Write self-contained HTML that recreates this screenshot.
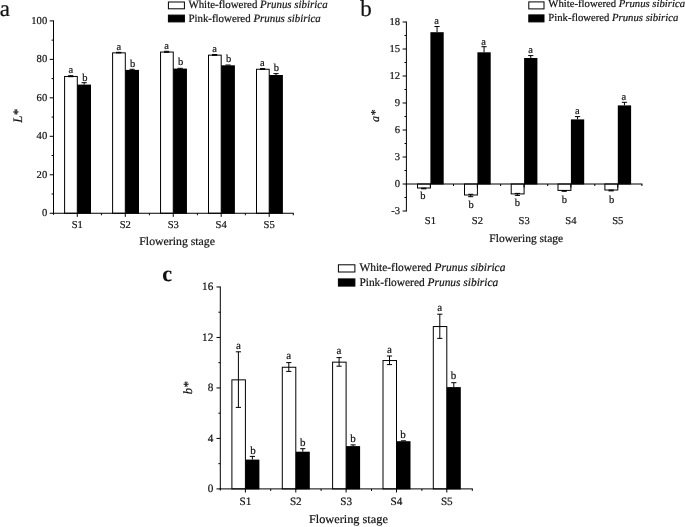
<!DOCTYPE html>
<html><head><meta charset="utf-8"><title>Figure</title>
<style>html,body{margin:0;padding:0;background:#fff}svg{display:block}text{text-rendering:geometricPrecision;font-family:"Liberation Serif","Times New Roman",serif;fill:#111;stroke:#111;stroke-width:0.2px}</style>
</head><body>
<svg width="685" height="527" viewBox="0 0 685 527">
<rect x="0" y="0" width="685" height="527" fill="#fff"/>
<rect x="64.60" y="76.45" width="12.70" height="136.80" fill="#fff" stroke="#000" stroke-width="1"/>
<rect x="77.30" y="84.60" width="13.70" height="129.15" fill="#000"/>
<line x1="70.70" y1="75.70" x2="70.70" y2="76.70" stroke="#000" stroke-width="1"/>
<line x1="68.10" y1="75.70" x2="73.30" y2="75.70" stroke="#000" stroke-width="1"/>
<line x1="68.10" y1="76.70" x2="73.30" y2="76.70" stroke="#000" stroke-width="1"/>
<line x1="84.15" y1="82.70" x2="84.15" y2="84.60" stroke="#000" stroke-width="1"/>
<line x1="81.55" y1="82.70" x2="86.75" y2="82.70" stroke="#000" stroke-width="1"/>
<text x="70.90" y="72.60" font-size="10.5" text-anchor="middle" >a</text>
<text x="84.80" y="80.70" font-size="10.5" text-anchor="middle" >b</text>
<rect x="112.60" y="52.85" width="12.70" height="160.40" fill="#fff" stroke="#000" stroke-width="1"/>
<rect x="125.30" y="69.90" width="13.70" height="143.85" fill="#000"/>
<line x1="118.70" y1="52.30" x2="118.70" y2="52.90" stroke="#000" stroke-width="1"/>
<line x1="116.10" y1="52.30" x2="121.30" y2="52.30" stroke="#000" stroke-width="1"/>
<line x1="116.10" y1="52.90" x2="121.30" y2="52.90" stroke="#000" stroke-width="1"/>
<line x1="132.15" y1="69.30" x2="132.15" y2="69.90" stroke="#000" stroke-width="1"/>
<line x1="129.55" y1="69.30" x2="134.75" y2="69.30" stroke="#000" stroke-width="1"/>
<text x="118.90" y="49.70" font-size="10.5" text-anchor="middle" >a</text>
<text x="132.50" y="66.80" font-size="10.5" text-anchor="middle" >b</text>
<rect x="160.55" y="52.05" width="12.70" height="161.20" fill="#fff" stroke="#000" stroke-width="1"/>
<rect x="173.25" y="68.60" width="13.70" height="145.15" fill="#000"/>
<line x1="166.65" y1="51.30" x2="166.65" y2="52.30" stroke="#000" stroke-width="1"/>
<line x1="164.05" y1="51.30" x2="169.25" y2="51.30" stroke="#000" stroke-width="1"/>
<line x1="164.05" y1="52.30" x2="169.25" y2="52.30" stroke="#000" stroke-width="1"/>
<line x1="180.10" y1="68.30" x2="180.10" y2="68.60" stroke="#000" stroke-width="1"/>
<line x1="177.50" y1="68.30" x2="182.70" y2="68.30" stroke="#000" stroke-width="1"/>
<text x="166.70" y="48.50" font-size="10.5" text-anchor="middle" >a</text>
<text x="180.60" y="65.00" font-size="10.5" text-anchor="middle" >b</text>
<rect x="208.50" y="55.15" width="12.70" height="158.10" fill="#fff" stroke="#000" stroke-width="1"/>
<rect x="221.20" y="65.30" width="13.70" height="148.45" fill="#000"/>
<line x1="214.60" y1="54.50" x2="214.60" y2="55.30" stroke="#000" stroke-width="1"/>
<line x1="212.00" y1="54.50" x2="217.20" y2="54.50" stroke="#000" stroke-width="1"/>
<line x1="212.00" y1="55.30" x2="217.20" y2="55.30" stroke="#000" stroke-width="1"/>
<line x1="228.05" y1="65.00" x2="228.05" y2="65.30" stroke="#000" stroke-width="1"/>
<line x1="225.45" y1="65.00" x2="230.65" y2="65.00" stroke="#000" stroke-width="1"/>
<text x="214.70" y="51.50" font-size="10.5" text-anchor="middle" >a</text>
<text x="228.60" y="61.80" font-size="10.5" text-anchor="middle" >b</text>
<rect x="256.50" y="69.25" width="12.70" height="144.00" fill="#fff" stroke="#000" stroke-width="1"/>
<rect x="269.20" y="75.00" width="13.70" height="138.75" fill="#000"/>
<line x1="262.60" y1="68.60" x2="262.60" y2="69.40" stroke="#000" stroke-width="1"/>
<line x1="260.00" y1="68.60" x2="265.20" y2="68.60" stroke="#000" stroke-width="1"/>
<line x1="260.00" y1="69.40" x2="265.20" y2="69.40" stroke="#000" stroke-width="1"/>
<line x1="276.05" y1="73.60" x2="276.05" y2="75.00" stroke="#000" stroke-width="1"/>
<line x1="273.45" y1="73.60" x2="278.65" y2="73.60" stroke="#000" stroke-width="1"/>
<text x="262.40" y="65.70" font-size="10.5" text-anchor="middle" >a</text>
<text x="276.30" y="71.20" font-size="10.5" text-anchor="middle" >b</text>
<line x1="53.50" y1="20.40" x2="53.50" y2="213.75" stroke="#000" stroke-width="1"/>
<line x1="53.00" y1="213.25" x2="293.80" y2="213.25" stroke="#000" stroke-width="1"/>
<line x1="49.70" y1="213.25" x2="53.50" y2="213.25" stroke="#000" stroke-width="1"/>
<text x="47.20" y="216.15" font-size="10.6" text-anchor="end" >0</text>
<line x1="51.60" y1="194.01" x2="53.50" y2="194.01" stroke="#000" stroke-width="1"/>
<line x1="49.70" y1="174.78" x2="53.50" y2="174.78" stroke="#000" stroke-width="1"/>
<text x="47.20" y="177.68" font-size="10.6" text-anchor="end" >20</text>
<line x1="51.60" y1="155.55" x2="53.50" y2="155.55" stroke="#000" stroke-width="1"/>
<line x1="49.70" y1="136.31" x2="53.50" y2="136.31" stroke="#000" stroke-width="1"/>
<text x="47.20" y="139.21" font-size="10.6" text-anchor="end" >40</text>
<line x1="51.60" y1="117.08" x2="53.50" y2="117.08" stroke="#000" stroke-width="1"/>
<line x1="49.70" y1="97.84" x2="53.50" y2="97.84" stroke="#000" stroke-width="1"/>
<text x="47.20" y="100.74" font-size="10.6" text-anchor="end" >60</text>
<line x1="51.60" y1="78.60" x2="53.50" y2="78.60" stroke="#000" stroke-width="1"/>
<line x1="49.70" y1="59.37" x2="53.50" y2="59.37" stroke="#000" stroke-width="1"/>
<text x="47.20" y="62.27" font-size="10.6" text-anchor="end" >80</text>
<line x1="51.60" y1="40.13" x2="53.50" y2="40.13" stroke="#000" stroke-width="1"/>
<line x1="49.70" y1="20.90" x2="53.50" y2="20.90" stroke="#000" stroke-width="1"/>
<text x="47.20" y="23.80" font-size="10.6" text-anchor="end" >100</text>
<line x1="77.30" y1="213.25" x2="77.30" y2="216.85" stroke="#000" stroke-width="1"/>
<text x="77.30" y="228.10" font-size="10.6" text-anchor="middle" >S1</text>
<line x1="125.30" y1="213.25" x2="125.30" y2="216.85" stroke="#000" stroke-width="1"/>
<text x="125.30" y="228.10" font-size="10.6" text-anchor="middle" >S2</text>
<line x1="173.25" y1="213.25" x2="173.25" y2="216.85" stroke="#000" stroke-width="1"/>
<text x="173.25" y="228.10" font-size="10.6" text-anchor="middle" >S3</text>
<line x1="221.20" y1="213.25" x2="221.20" y2="216.85" stroke="#000" stroke-width="1"/>
<text x="221.20" y="228.10" font-size="10.6" text-anchor="middle" >S4</text>
<line x1="269.20" y1="213.25" x2="269.20" y2="216.85" stroke="#000" stroke-width="1"/>
<text x="269.20" y="228.10" font-size="10.6" text-anchor="middle" >S5</text>
<line x1="53.50" y1="213.25" x2="53.50" y2="214.85" stroke="#000" stroke-width="1"/>
<line x1="101.46" y1="213.25" x2="101.46" y2="215.25" stroke="#000" stroke-width="1"/>
<line x1="149.42" y1="213.25" x2="149.42" y2="215.25" stroke="#000" stroke-width="1"/>
<line x1="197.38" y1="213.25" x2="197.38" y2="215.25" stroke="#000" stroke-width="1"/>
<line x1="245.34" y1="213.25" x2="245.34" y2="215.25" stroke="#000" stroke-width="1"/>
<line x1="293.30" y1="213.25" x2="293.30" y2="215.25" stroke="#000" stroke-width="1"/>
<text x="139.30" y="244.90" font-size="11.6" text-anchor="start" textLength="75.7" lengthAdjust="spacingAndGlyphs" >Flowering stage</text>
<text transform="translate(22,116.0) rotate(-90)" font-size="12.9" text-anchor="middle" font-style="italic">L*</text>
<text x="-0.30" y="15.50" font-size="23" text-anchor="start" >a</text>
<rect x="168.40" y="2.00" width="16.00" height="6.80" fill="#fff" stroke="#000" stroke-width="1"/>
<rect x="168.40" y="15.10" width="16.00" height="6.80" fill="#000" stroke="#000" stroke-width="1"/>
<text x="188.4" y="7.7" font-size="11.2" textLength="139.2" lengthAdjust="spacingAndGlyphs">White-flowered <tspan font-style="italic">Prunus sibirica</tspan></text>
<text x="188.4" y="22.0" font-size="11.2" textLength="132.4" lengthAdjust="spacingAndGlyphs">Pink-flowered <tspan font-style="italic">Prunus sibirica</tspan></text>
<rect x="417.50" y="184.00" width="12.90" height="4.00" fill="#fff" stroke="#000" stroke-width="1"/>
<rect x="430.40" y="32.20" width="13.30" height="152.30" fill="#000"/>
<line x1="423.70" y1="188.20" x2="423.70" y2="188.80" stroke="#000" stroke-width="1"/>
<line x1="421.10" y1="188.20" x2="426.30" y2="188.20" stroke="#000" stroke-width="1"/>
<line x1="421.10" y1="188.80" x2="426.30" y2="188.80" stroke="#000" stroke-width="1"/>
<line x1="437.05" y1="26.50" x2="437.05" y2="32.20" stroke="#000" stroke-width="1"/>
<line x1="434.45" y1="26.50" x2="439.65" y2="26.50" stroke="#000" stroke-width="1"/>
<text x="422.80" y="198.60" font-size="10.5" text-anchor="middle" >b</text>
<text x="436.50" y="24.40" font-size="10.5" text-anchor="middle" >a</text>
<rect x="464.50" y="184.00" width="12.90" height="11.00" fill="#fff" stroke="#000" stroke-width="1"/>
<rect x="477.40" y="52.30" width="13.30" height="132.20" fill="#000"/>
<line x1="470.70" y1="194.30" x2="470.70" y2="196.70" stroke="#000" stroke-width="1"/>
<line x1="468.10" y1="194.30" x2="473.30" y2="194.30" stroke="#000" stroke-width="1"/>
<line x1="468.10" y1="196.70" x2="473.30" y2="196.70" stroke="#000" stroke-width="1"/>
<line x1="484.05" y1="46.70" x2="484.05" y2="52.30" stroke="#000" stroke-width="1"/>
<line x1="481.45" y1="46.70" x2="486.65" y2="46.70" stroke="#000" stroke-width="1"/>
<text x="471.00" y="207.80" font-size="10.5" text-anchor="middle" >b</text>
<text x="483.70" y="45.00" font-size="10.5" text-anchor="middle" >a</text>
<rect x="511.20" y="184.00" width="12.90" height="9.90" fill="#fff" stroke="#000" stroke-width="1"/>
<rect x="524.10" y="58.00" width="13.30" height="126.50" fill="#000"/>
<line x1="517.40" y1="193.40" x2="517.40" y2="195.40" stroke="#000" stroke-width="1"/>
<line x1="514.80" y1="193.40" x2="520.00" y2="193.40" stroke="#000" stroke-width="1"/>
<line x1="514.80" y1="195.40" x2="520.00" y2="195.40" stroke="#000" stroke-width="1"/>
<line x1="530.75" y1="55.60" x2="530.75" y2="58.00" stroke="#000" stroke-width="1"/>
<line x1="528.15" y1="55.60" x2="533.35" y2="55.60" stroke="#000" stroke-width="1"/>
<text x="517.40" y="205.60" font-size="10.5" text-anchor="middle" >b</text>
<text x="530.60" y="53.40" font-size="10.5" text-anchor="middle" >a</text>
<rect x="558.00" y="184.00" width="12.90" height="6.40" fill="#fff" stroke="#000" stroke-width="1"/>
<rect x="570.90" y="119.40" width="13.30" height="65.10" fill="#000"/>
<line x1="564.20" y1="190.50" x2="564.20" y2="191.30" stroke="#000" stroke-width="1"/>
<line x1="561.60" y1="190.50" x2="566.80" y2="190.50" stroke="#000" stroke-width="1"/>
<line x1="561.60" y1="191.30" x2="566.80" y2="191.30" stroke="#000" stroke-width="1"/>
<line x1="577.55" y1="116.60" x2="577.55" y2="119.40" stroke="#000" stroke-width="1"/>
<line x1="574.95" y1="116.60" x2="580.15" y2="116.60" stroke="#000" stroke-width="1"/>
<text x="564.40" y="202.50" font-size="10.5" text-anchor="middle" >b</text>
<text x="577.30" y="113.80" font-size="10.5" text-anchor="middle" >a</text>
<rect x="604.90" y="184.00" width="12.90" height="6.00" fill="#fff" stroke="#000" stroke-width="1"/>
<rect x="617.80" y="105.40" width="13.30" height="79.10" fill="#000"/>
<line x1="611.10" y1="190.10" x2="611.10" y2="190.90" stroke="#000" stroke-width="1"/>
<line x1="608.50" y1="190.10" x2="613.70" y2="190.10" stroke="#000" stroke-width="1"/>
<line x1="608.50" y1="190.90" x2="613.70" y2="190.90" stroke="#000" stroke-width="1"/>
<line x1="624.45" y1="102.30" x2="624.45" y2="105.40" stroke="#000" stroke-width="1"/>
<line x1="621.85" y1="102.30" x2="627.05" y2="102.30" stroke="#000" stroke-width="1"/>
<text x="611.70" y="202.50" font-size="10.5" text-anchor="middle" >b</text>
<text x="623.90" y="99.80" font-size="10.5" text-anchor="middle" >a</text>
<line x1="406.40" y1="21.50" x2="406.40" y2="211.50" stroke="#000" stroke-width="1"/>
<line x1="405.90" y1="184.00" x2="642.40" y2="184.00" stroke="#000" stroke-width="1"/>
<line x1="402.60" y1="211.00" x2="406.40" y2="211.00" stroke="#000" stroke-width="1"/>
<text x="400.10" y="213.90" font-size="10.6" text-anchor="end" >-3</text>
<line x1="404.50" y1="197.50" x2="406.40" y2="197.50" stroke="#000" stroke-width="1"/>
<line x1="402.60" y1="184.00" x2="406.40" y2="184.00" stroke="#000" stroke-width="1"/>
<text x="400.10" y="186.90" font-size="10.6" text-anchor="end" >0</text>
<line x1="404.50" y1="170.50" x2="406.40" y2="170.50" stroke="#000" stroke-width="1"/>
<line x1="402.60" y1="157.00" x2="406.40" y2="157.00" stroke="#000" stroke-width="1"/>
<text x="400.10" y="159.90" font-size="10.6" text-anchor="end" >3</text>
<line x1="404.50" y1="143.50" x2="406.40" y2="143.50" stroke="#000" stroke-width="1"/>
<line x1="402.60" y1="130.00" x2="406.40" y2="130.00" stroke="#000" stroke-width="1"/>
<text x="400.10" y="132.90" font-size="10.6" text-anchor="end" >6</text>
<line x1="404.50" y1="116.50" x2="406.40" y2="116.50" stroke="#000" stroke-width="1"/>
<line x1="402.60" y1="103.00" x2="406.40" y2="103.00" stroke="#000" stroke-width="1"/>
<text x="400.10" y="105.90" font-size="10.6" text-anchor="end" >9</text>
<line x1="404.50" y1="89.50" x2="406.40" y2="89.50" stroke="#000" stroke-width="1"/>
<line x1="402.60" y1="76.00" x2="406.40" y2="76.00" stroke="#000" stroke-width="1"/>
<text x="400.10" y="78.90" font-size="10.6" text-anchor="end" >12</text>
<line x1="404.50" y1="62.50" x2="406.40" y2="62.50" stroke="#000" stroke-width="1"/>
<line x1="402.60" y1="49.00" x2="406.40" y2="49.00" stroke="#000" stroke-width="1"/>
<text x="400.10" y="51.90" font-size="10.6" text-anchor="end" >15</text>
<line x1="404.50" y1="35.50" x2="406.40" y2="35.50" stroke="#000" stroke-width="1"/>
<line x1="402.60" y1="22.00" x2="406.40" y2="22.00" stroke="#000" stroke-width="1"/>
<text x="400.10" y="24.90" font-size="10.6" text-anchor="end" >18</text>
<line x1="430.40" y1="184.00" x2="430.40" y2="187.60" stroke="#000" stroke-width="1"/>
<text x="430.40" y="223.80" font-size="10.6" text-anchor="middle" >S1</text>
<line x1="477.40" y1="184.00" x2="477.40" y2="187.60" stroke="#000" stroke-width="1"/>
<text x="477.40" y="223.80" font-size="10.6" text-anchor="middle" >S2</text>
<line x1="524.10" y1="184.00" x2="524.10" y2="187.60" stroke="#000" stroke-width="1"/>
<text x="524.10" y="223.80" font-size="10.6" text-anchor="middle" >S3</text>
<line x1="570.90" y1="184.00" x2="570.90" y2="187.60" stroke="#000" stroke-width="1"/>
<text x="570.90" y="223.80" font-size="10.6" text-anchor="middle" >S4</text>
<line x1="617.80" y1="184.00" x2="617.80" y2="187.60" stroke="#000" stroke-width="1"/>
<text x="617.80" y="223.80" font-size="10.6" text-anchor="middle" >S5</text>
<line x1="406.40" y1="184.00" x2="406.40" y2="185.60" stroke="#000" stroke-width="1"/>
<line x1="453.50" y1="184.00" x2="453.50" y2="186.00" stroke="#000" stroke-width="1"/>
<line x1="500.60" y1="184.00" x2="500.60" y2="186.00" stroke="#000" stroke-width="1"/>
<line x1="547.70" y1="184.00" x2="547.70" y2="186.00" stroke="#000" stroke-width="1"/>
<line x1="594.80" y1="184.00" x2="594.80" y2="186.00" stroke="#000" stroke-width="1"/>
<line x1="641.90" y1="184.00" x2="641.90" y2="186.00" stroke="#000" stroke-width="1"/>
<text x="489.30" y="242.20" font-size="11.4" text-anchor="start" textLength="73.9" lengthAdjust="spacingAndGlyphs" >Flowering stage</text>
<text transform="translate(379.0,116.0) rotate(-90)" font-size="12" text-anchor="middle" font-style="italic">a*</text>
<text x="360.30" y="15.90" font-size="23" text-anchor="start" >b</text>
<rect x="528.80" y="1.90" width="15.20" height="7.00" fill="#fff" stroke="#000" stroke-width="1"/>
<rect x="528.80" y="14.90" width="15.20" height="7.00" fill="#000" stroke="#000" stroke-width="1"/>
<text x="548.3" y="7.1" font-size="10.8" textLength="136.8" lengthAdjust="spacingAndGlyphs">White-flowered <tspan font-style="italic">Prunus sibirica</tspan></text>
<text x="548.3" y="21.2" font-size="10.8" textLength="130.0" lengthAdjust="spacingAndGlyphs">Pink-flowered <tspan font-style="italic">Prunus sibirica</tspan></text>
<rect x="231.90" y="379.85" width="13.50" height="109.05" fill="#fff" stroke="#000" stroke-width="1"/>
<rect x="245.40" y="459.60" width="14.00" height="29.80" fill="#000"/>
<line x1="238.40" y1="351.80" x2="238.40" y2="407.40" stroke="#000" stroke-width="1"/>
<line x1="235.80" y1="351.80" x2="241.00" y2="351.80" stroke="#000" stroke-width="1"/>
<line x1="235.80" y1="407.40" x2="241.00" y2="407.40" stroke="#000" stroke-width="1"/>
<line x1="252.40" y1="456.40" x2="252.40" y2="459.60" stroke="#000" stroke-width="1"/>
<line x1="249.80" y1="456.40" x2="255.00" y2="456.40" stroke="#000" stroke-width="1"/>
<text x="238.40" y="348.60" font-size="11" text-anchor="middle" >a</text>
<text x="253.00" y="453.60" font-size="11" text-anchor="middle" >b</text>
<rect x="282.30" y="367.25" width="13.50" height="121.65" fill="#fff" stroke="#000" stroke-width="1"/>
<rect x="295.80" y="451.70" width="14.00" height="37.70" fill="#000"/>
<line x1="288.80" y1="362.60" x2="288.80" y2="371.40" stroke="#000" stroke-width="1"/>
<line x1="286.20" y1="362.60" x2="291.40" y2="362.60" stroke="#000" stroke-width="1"/>
<line x1="286.20" y1="371.40" x2="291.40" y2="371.40" stroke="#000" stroke-width="1"/>
<line x1="302.80" y1="448.70" x2="302.80" y2="451.70" stroke="#000" stroke-width="1"/>
<line x1="300.20" y1="448.70" x2="305.40" y2="448.70" stroke="#000" stroke-width="1"/>
<text x="288.60" y="359.10" font-size="11" text-anchor="middle" >a</text>
<text x="302.70" y="446.40" font-size="11" text-anchor="middle" >b</text>
<rect x="332.60" y="362.15" width="13.50" height="126.75" fill="#fff" stroke="#000" stroke-width="1"/>
<rect x="346.10" y="446.10" width="14.00" height="43.30" fill="#000"/>
<line x1="339.10" y1="357.60" x2="339.10" y2="366.20" stroke="#000" stroke-width="1"/>
<line x1="336.50" y1="357.60" x2="341.70" y2="357.60" stroke="#000" stroke-width="1"/>
<line x1="336.50" y1="366.20" x2="341.70" y2="366.20" stroke="#000" stroke-width="1"/>
<line x1="353.10" y1="444.90" x2="353.10" y2="446.10" stroke="#000" stroke-width="1"/>
<line x1="350.50" y1="444.90" x2="355.70" y2="444.90" stroke="#000" stroke-width="1"/>
<text x="338.90" y="354.30" font-size="11" text-anchor="middle" >a</text>
<text x="353.00" y="442.30" font-size="11" text-anchor="middle" >b</text>
<rect x="383.00" y="360.55" width="13.50" height="128.35" fill="#fff" stroke="#000" stroke-width="1"/>
<rect x="396.50" y="441.20" width="14.00" height="48.20" fill="#000"/>
<line x1="389.50" y1="356.00" x2="389.50" y2="364.60" stroke="#000" stroke-width="1"/>
<line x1="386.90" y1="356.00" x2="392.10" y2="356.00" stroke="#000" stroke-width="1"/>
<line x1="386.90" y1="364.60" x2="392.10" y2="364.60" stroke="#000" stroke-width="1"/>
<line x1="403.50" y1="440.80" x2="403.50" y2="441.20" stroke="#000" stroke-width="1"/>
<line x1="400.90" y1="440.80" x2="406.10" y2="440.80" stroke="#000" stroke-width="1"/>
<text x="389.50" y="353.20" font-size="11" text-anchor="middle" >a</text>
<text x="403.10" y="437.70" font-size="11" text-anchor="middle" >b</text>
<rect x="433.30" y="326.55" width="13.50" height="162.35" fill="#fff" stroke="#000" stroke-width="1"/>
<rect x="446.80" y="387.10" width="14.00" height="102.30" fill="#000"/>
<line x1="439.80" y1="314.20" x2="439.80" y2="338.40" stroke="#000" stroke-width="1"/>
<line x1="437.20" y1="314.20" x2="442.40" y2="314.20" stroke="#000" stroke-width="1"/>
<line x1="437.20" y1="338.40" x2="442.40" y2="338.40" stroke="#000" stroke-width="1"/>
<line x1="453.80" y1="382.70" x2="453.80" y2="387.10" stroke="#000" stroke-width="1"/>
<line x1="451.20" y1="382.70" x2="456.40" y2="382.70" stroke="#000" stroke-width="1"/>
<text x="439.60" y="310.90" font-size="11" text-anchor="middle" >a</text>
<text x="453.40" y="379.30" font-size="11" text-anchor="middle" >b</text>
<line x1="220.30" y1="286.48" x2="220.30" y2="489.40" stroke="#000" stroke-width="1"/>
<line x1="219.80" y1="488.90" x2="472.80" y2="488.90" stroke="#000" stroke-width="1"/>
<line x1="216.50" y1="488.90" x2="220.30" y2="488.90" stroke="#000" stroke-width="1"/>
<text x="213.30" y="492.00" font-size="11.2" text-anchor="end" >0</text>
<line x1="218.40" y1="463.66" x2="220.30" y2="463.66" stroke="#000" stroke-width="1"/>
<line x1="216.50" y1="438.42" x2="220.30" y2="438.42" stroke="#000" stroke-width="1"/>
<text x="213.30" y="441.52" font-size="11.2" text-anchor="end" >4</text>
<line x1="218.40" y1="413.18" x2="220.30" y2="413.18" stroke="#000" stroke-width="1"/>
<line x1="216.50" y1="387.94" x2="220.30" y2="387.94" stroke="#000" stroke-width="1"/>
<text x="213.30" y="391.04" font-size="11.2" text-anchor="end" >8</text>
<line x1="218.40" y1="362.70" x2="220.30" y2="362.70" stroke="#000" stroke-width="1"/>
<line x1="216.50" y1="337.46" x2="220.30" y2="337.46" stroke="#000" stroke-width="1"/>
<text x="213.30" y="340.56" font-size="11.2" text-anchor="end" >12</text>
<line x1="218.40" y1="312.22" x2="220.30" y2="312.22" stroke="#000" stroke-width="1"/>
<line x1="216.50" y1="286.98" x2="220.30" y2="286.98" stroke="#000" stroke-width="1"/>
<text x="213.30" y="290.08" font-size="11.2" text-anchor="end" >16</text>
<line x1="245.40" y1="488.90" x2="245.40" y2="492.50" stroke="#000" stroke-width="1"/>
<text x="245.40" y="504.50" font-size="11.2" text-anchor="middle" >S1</text>
<line x1="295.80" y1="488.90" x2="295.80" y2="492.50" stroke="#000" stroke-width="1"/>
<text x="295.80" y="504.50" font-size="11.2" text-anchor="middle" >S2</text>
<line x1="346.10" y1="488.90" x2="346.10" y2="492.50" stroke="#000" stroke-width="1"/>
<text x="346.10" y="504.50" font-size="11.2" text-anchor="middle" >S3</text>
<line x1="396.50" y1="488.90" x2="396.50" y2="492.50" stroke="#000" stroke-width="1"/>
<text x="396.50" y="504.50" font-size="11.2" text-anchor="middle" >S4</text>
<line x1="446.80" y1="488.90" x2="446.80" y2="492.50" stroke="#000" stroke-width="1"/>
<text x="446.80" y="504.50" font-size="11.2" text-anchor="middle" >S5</text>
<line x1="220.30" y1="488.90" x2="220.30" y2="490.50" stroke="#000" stroke-width="1"/>
<line x1="270.70" y1="488.90" x2="270.70" y2="490.90" stroke="#000" stroke-width="1"/>
<line x1="321.10" y1="488.90" x2="321.10" y2="490.90" stroke="#000" stroke-width="1"/>
<line x1="371.50" y1="488.90" x2="371.50" y2="490.90" stroke="#000" stroke-width="1"/>
<line x1="421.90" y1="488.90" x2="421.90" y2="490.90" stroke="#000" stroke-width="1"/>
<line x1="472.30" y1="488.90" x2="472.30" y2="490.90" stroke="#000" stroke-width="1"/>
<text x="308.90" y="523.40" font-size="12" text-anchor="start" textLength="79.0" lengthAdjust="spacingAndGlyphs" >Flowering stage</text>
<text transform="translate(191.5,388) rotate(-90)" font-size="12.5" text-anchor="middle" font-style="italic">b*</text>
<text x="162.20" y="280.70" font-size="22" text-anchor="start" font-weight="bold">c</text>
<rect x="338.40" y="264.80" width="16.50" height="7.20" fill="#fff" stroke="#000" stroke-width="1"/>
<rect x="338.40" y="278.90" width="16.50" height="7.20" fill="#000" stroke="#000" stroke-width="1"/>
<text x="359.4" y="270.7" font-size="11.5" textLength="146" lengthAdjust="spacingAndGlyphs">White-flowered <tspan font-style="italic">Prunus sibirica</tspan></text>
<text x="359.4" y="285.5" font-size="11.5" textLength="138.8" lengthAdjust="spacingAndGlyphs">Pink-flowered <tspan font-style="italic">Prunus sibirica</tspan></text>
</svg>
</body></html>
